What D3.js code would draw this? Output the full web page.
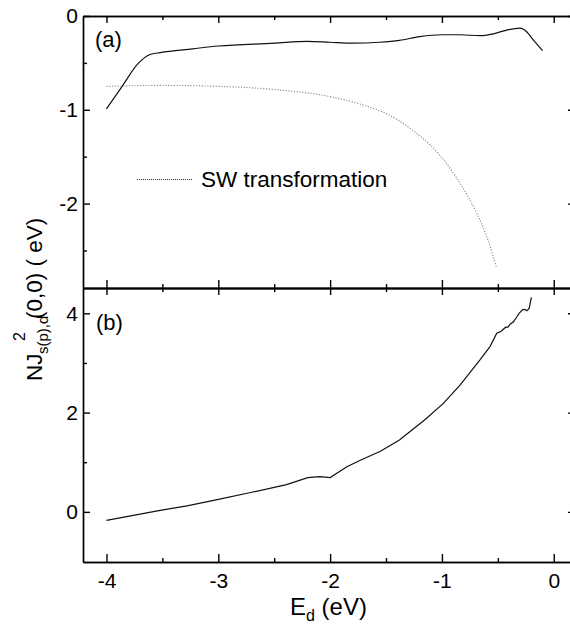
<!DOCTYPE html>
<html>
<head>
<meta charset="utf-8">
<script src="https://cdn.jsdelivr.net/npm/d3@7"></script>
<style>
  body { margin: 0; background: #fff; }
  svg text { font-family: "Liberation Sans", Arial, sans-serif; fill: #000; }
  .axis path, .axis line { stroke: #000; stroke-width: 1.4; }
  .axis text { font-size: 21px; }
</style>
</head>
<body>
<svg id="chart" width="570" height="630"></svg>
<script>
// ---- data ----
// panel (a), solid curve
const aE = [-4, -3.86, -3.72, -3.61, -3.52, -3.23, -3.0, -2.5, -2.2, -2.0, -1.8, -1.56, -1.38, -1.2, -1.0, -0.84, -0.66, -0.54, -0.42, -0.30, -0.26, -0.18, -0.10];
const aJ = [-0.99, -0.75, -0.51, -0.41, -0.39, -0.35, -0.32, -0.29, -0.27, -0.28, -0.29, -0.28, -0.26, -0.22, -0.20, -0.20, -0.21, -0.19, -0.15, -0.13, -0.15, -0.26, -0.37];
// panel (a), SW transformation (dotted)
const swE = [-4, -3.5, -3, -2.54, -2.0, -1.73, -1.5, -1.38, -1.26, -1.11, -0.96, -0.82, -0.69, -0.6, -0.51];
const swJ = [-0.75, -0.74, -0.75, -0.78, -0.86, -0.94, -1.04, -1.12, -1.22, -1.37, -1.57, -1.82, -2.10, -2.35, -2.69];
// panel (b), solid curve
const bE = [-4, -3.76, -3.52, -3.28, -3.02, -2.69, -2.39, -2.20, -2.09, -2.0, -1.85, -1.73, -1.55, -1.38, -1.15, -0.99, -0.84, -0.66, -0.57, -0.51, -0.47, -0.43, -0.41, -0.39, -0.36, -0.33, -0.31, -0.28, -0.26, -0.24, -0.22, -0.20];
const bJ = [-0.17, -0.07, 0.03, 0.12, 0.24, 0.40, 0.55, 0.69, 0.71, 0.69, 0.91, 1.04, 1.22, 1.45, 1.86, 2.18, 2.55, 3.06, 3.33, 3.60, 3.64, 3.72, 3.72, 3.78, 3.83, 3.93, 4.0, 4.07, 4.08, 4.05, 4.10, 4.32];

const xMajor = [-4, -3, -2, -1, 0];
const xMinor = [-3.5, -2.5, -1.5, -0.5];
const aMajor = [0, -1, -2];
const aMinor = [-0.5, -1.5, -2.5];
const bMajor = [0, 2, 4];
const bMinor = [1, 3];

// ---- layout ----
const L = 83, R = 575, T = 16, MID = 288, B = 562;
const svg = d3.select("#chart");

const x = d3.scaleLinear().domain([-4.21, 0.19]).range([L, R]);
const yA = d3.scaleLinear().domain([-2.9, 0]).range([MID, T]);
const yB = d3.scaleLinear().domain([-1.01, 4.51]).range([B, MID]);

const fmt = d => String(d);   // plain hyphen minus, like the original

function frame(y, top, bottom, ticksMajor, ticksMinor, showX) {
  // left
  svg.append("g").attr("class", "axis").attr("transform", `translate(${L},0)`)
    .call(d3.axisLeft(y).tickValues(ticksMajor).tickFormat(fmt).tickSize(-7).tickPadding(5).tickSizeOuter(0));
  svg.append("g").attr("class", "axis").attr("transform", `translate(${L},0)`)
    .call(d3.axisLeft(y).tickValues(ticksMinor).tickFormat("").tickSize(-4).tickSizeOuter(0));
  // right
  svg.append("g").attr("class", "axis").attr("transform", `translate(${R},0)`)
    .call(d3.axisRight(y).tickValues(ticksMajor).tickFormat("").tickSize(-7).tickSizeOuter(0));
  svg.append("g").attr("class", "axis").attr("transform", `translate(${R},0)`)
    .call(d3.axisRight(y).tickValues(ticksMinor).tickFormat("").tickSize(-4).tickSizeOuter(0));
  // top
  svg.append("g").attr("class", "axis").attr("transform", `translate(0,${top})`)
    .call(d3.axisTop(x).tickValues(xMajor).tickFormat("").tickSize(-7).tickSizeOuter(0));
  svg.append("g").attr("class", "axis").attr("transform", `translate(0,${top})`)
    .call(d3.axisTop(x).tickValues(xMinor).tickFormat("").tickSize(-4).tickSizeOuter(0));
  // bottom
  svg.append("g").attr("class", "axis").attr("transform", `translate(0,${bottom})`)
    .call(d3.axisBottom(x).tickValues(xMajor).tickFormat(showX ? fmt : "").tickSize(-8).tickPadding(11).tickSizeOuter(0));
  svg.append("g").attr("class", "axis").attr("transform", `translate(0,${bottom})`)
    .call(d3.axisBottom(x).tickValues(xMinor).tickFormat("").tickSize(-4).tickSizeOuter(0));
}

frame(yA, T, MID, aMajor, aMinor, false);
frame(yB, MID, B, bMajor, bMinor, true);

// ---- curves ----
const lineA = d3.line().x(d => x(d[0])).y(d => yA(d[1])).curve(d3.curveMonotoneX);
const lineB = d3.line().x(d => x(d[0])).y(d => yB(d[1]));

svg.append("path").datum(d3.zip(aE, aJ)).attr("d", lineA)
  .attr("fill", "none").attr("stroke", "#111").attr("stroke-width", 1.2);
svg.append("path").datum(d3.zip(swE, swJ)).attr("d", lineA)
  .attr("fill", "none").attr("stroke", "#888").attr("stroke-width", 1.1).attr("stroke-dasharray", "1.2,1.6");
svg.append("path").datum(d3.zip(bE, bJ)).attr("d", lineB)
  .attr("fill", "none").attr("stroke", "#111").attr("stroke-width", 1.2);

// ---- legend ----
svg.append("line").attr("x1", 137).attr("x2", 193).attr("y1", 179.5).attr("y2", 179.5)
  .attr("stroke", "#333").attr("stroke-width", 1).attr("stroke-dasharray", "1,1");
svg.append("text").attr("x", 201).attr("y", 187).attr("font-size", 22.5).text("SW transformation");

// ---- panel tags ----
svg.append("text").attr("x", 95).attr("y", 47).attr("font-size", 22).text("(a)");
svg.append("text").attr("x", 96).attr("y", 330).attr("font-size", 22).text("(b)");

// ---- axis titles ----
const xt = svg.append("text").attr("x", 290).attr("y", 615).attr("font-size", 24);
xt.append("tspan").text("E");
xt.append("tspan").attr("font-size", 16).attr("dy", 6).text("d");
xt.append("tspan").attr("dy", -6).text(" (eV)");

const yt = svg.append("text").attr("transform", "translate(42,381) rotate(-90)").attr("font-size", 22.5);
yt.append("tspan").attr("x", 0).attr("y", 0).text("NJ");
yt.append("tspan").attr("x", 27).attr("y", 6).attr("font-size", 15).text("s(p),d");
yt.append("tspan").attr("x", 40).attr("y", -17).attr("font-size", 16).text("2");
yt.append("tspan").attr("x", 62).attr("y", 0).text("(0,0) ( eV)");
</script>
</body>
</html>
